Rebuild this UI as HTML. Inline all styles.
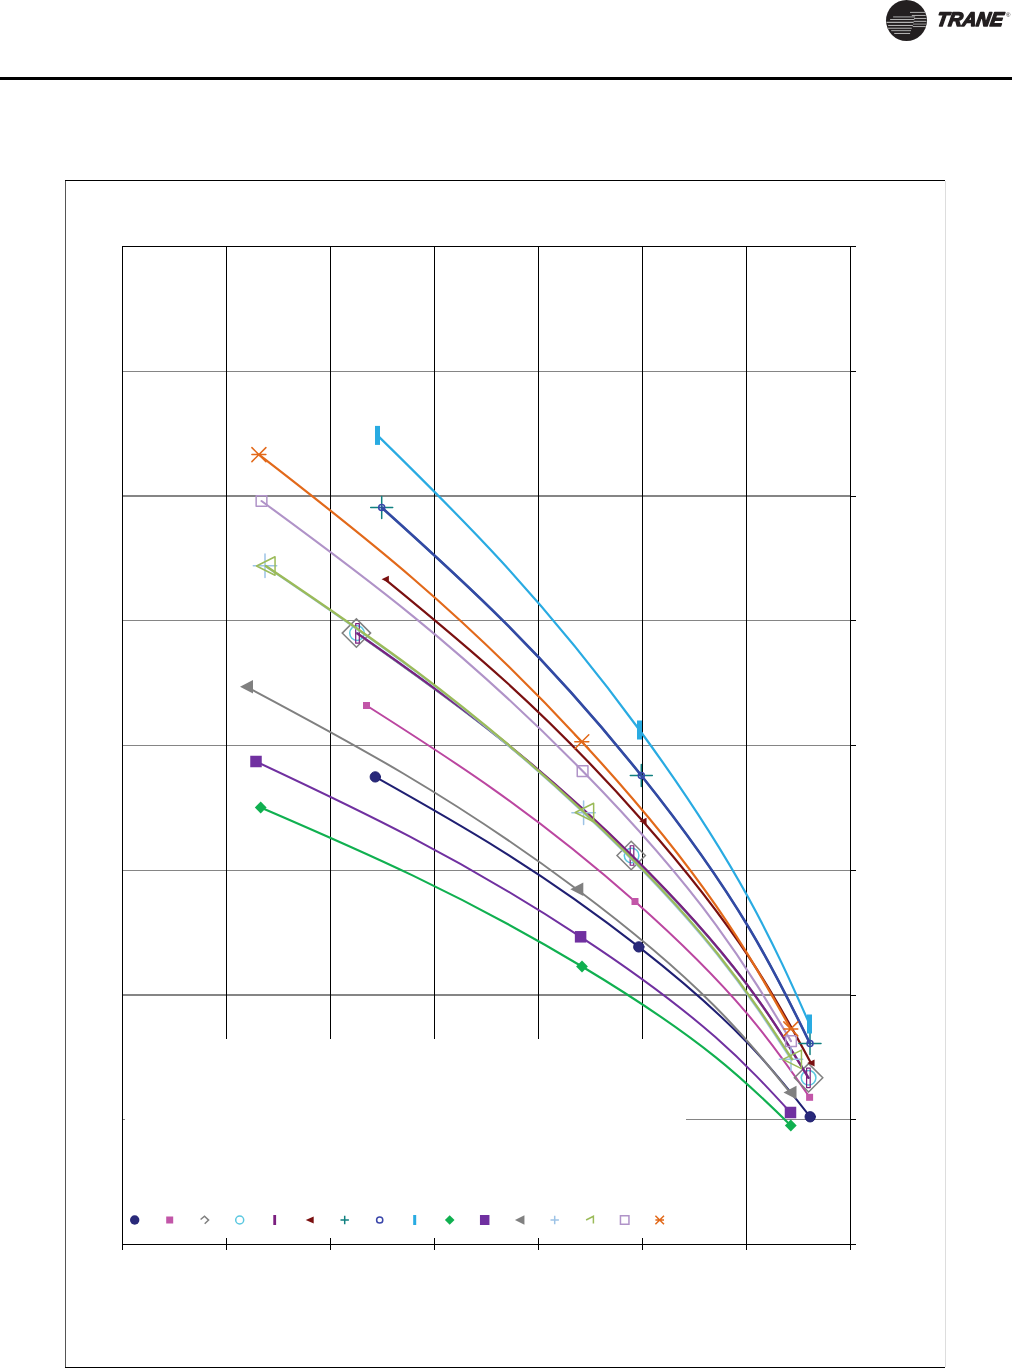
<!DOCTYPE html>
<html><head><meta charset="utf-8"><title>Chart</title>
<style>html,body{margin:0;padding:0;background:#fff;width:1012px;height:1368px;overflow:hidden;position:relative}</style>
</head><body>
<svg width="1012" height="1368" viewBox="0 0 1012 1368" style="position:absolute;left:0;top:0">
<rect x="0" y="77" width="1012" height="3" fill="#000"/>
<rect x="65" y="180" width="1" height="1188" fill="#555"/>
<rect x="946" y="181" width="0" height="0" fill="none"/>
<rect x="945" y="181" width="1" height="1186" fill="#ddd"/>
<rect x="65" y="180" width="880" height="1" fill="#000"/>
<rect x="65" y="1367" width="880" height="1" fill="#000"/>
<rect x="123" y="371" width="727" height="1" fill="#858585"/>
<rect x="123" y="495" width="727" height="2" fill="#858585"/>
<rect x="123" y="620" width="727" height="1" fill="#858585"/>
<rect x="123" y="745" width="727" height="1" fill="#858585"/>
<rect x="123" y="870" width="727" height="1" fill="#858585"/>
<rect x="123" y="994" width="727" height="2" fill="#858585"/>
<rect x="123" y="1119" width="727" height="1" fill="#858585"/>
<rect x="226" y="246" width="1" height="998" fill="#000"/>
<rect x="330" y="246" width="1" height="998" fill="#000"/>
<rect x="434" y="246" width="1" height="998" fill="#000"/>
<rect x="538" y="246" width="1" height="998" fill="#000"/>
<rect x="642" y="246" width="1" height="998" fill="#000"/>
<rect x="746" y="246" width="1" height="998" fill="#000"/>
<rect x="122" y="246" width="1" height="1004" fill="#000"/>
<rect x="850" y="246" width="1" height="1004" fill="#000"/>
<rect x="122" y="246" width="734" height="1" fill="#000"/>
<rect x="122" y="1244" width="734" height="1" fill="#000"/>
<rect x="850" y="371" width="6" height="1" fill="#000"/>
<rect x="850" y="496" width="6" height="1" fill="#000"/>
<rect x="850" y="620" width="6" height="1" fill="#000"/>
<rect x="850" y="745" width="6" height="1" fill="#000"/>
<rect x="850" y="870" width="6" height="1" fill="#000"/>
<rect x="850" y="995" width="6" height="1" fill="#000"/>
<rect x="850" y="1119" width="6" height="1" fill="#000"/>
<rect x="122" y="1238" width="1" height="12" fill="#000"/>
<rect x="226" y="1238" width="1" height="12" fill="#000"/>
<rect x="330" y="1238" width="1" height="12" fill="#000"/>
<rect x="434" y="1238" width="1" height="12" fill="#000"/>
<rect x="538" y="1238" width="1" height="12" fill="#000"/>
<rect x="642" y="1238" width="1" height="12" fill="#000"/>
<rect x="746" y="1238" width="1" height="12" fill="#000"/>
<rect x="850" y="1238" width="1" height="12" fill="#000"/>
<rect x="125" y="1039" width="561" height="199" fill="#fff"/>
<g stroke-linecap="round" stroke-linejoin="round">
<path d="M375.30,776.90 C457.04,822.81 538.77,868.72 638.80,946.90 C738.83,1025.08 774.51,1070.94 810.20,1116.80" fill="none" stroke="#1f1f72" stroke-width="2.00"/>
<circle cx="375.30" cy="776.90" r="5.2" fill="#29297a" stroke="#1c1c6c" stroke-width="0.9"/>
<circle cx="638.80" cy="946.90" r="5.2" fill="#29297a" stroke="#1c1c6c" stroke-width="0.9"/>
<circle cx="810.20" cy="1116.80" r="5.2" fill="#29297a" stroke="#1c1c6c" stroke-width="0.9"/>
<path d="M366.50,705.50 C449.79,758.44 533.09,811.39 635.00,901.50 C736.91,991.61 773.26,1044.46 809.60,1097.30" fill="none" stroke="#bb46a0" stroke-width="2.00"/>
<rect x="363.00" y="702.00" width="7.00" height="7.00" fill="#c256a8"/>
<rect x="631.50" y="898.00" width="7.00" height="7.00" fill="#c256a8"/>
<rect x="806.10" y="1093.80" width="7.00" height="7.00" fill="#c256a8"/>
<path d="M356.40,633.10 C441.80,693.16 527.19,753.22 631.20,855.50 C735.21,957.78 771.90,1017.79 808.60,1077.80" fill="none" stroke="#808080" stroke-width="2.00"/>
<polygon points="342.20,633.10 356.40,618.90 370.60,633.10 356.40,647.30" fill="none" stroke="#808080" stroke-width="1.50" stroke-linejoin="miter"/>
<polygon points="617.00,855.50 631.20,841.30 645.40,855.50 631.20,869.70" fill="none" stroke="#808080" stroke-width="1.50" stroke-linejoin="miter"/>
<polygon points="794.40,1077.80 808.60,1063.60 822.80,1077.80 808.60,1092.00" fill="none" stroke="#808080" stroke-width="1.50" stroke-linejoin="miter"/>
<path d="M357.00,633.10 C442.37,693.16 527.73,753.22 631.60,855.50 C735.47,957.78 772.03,1017.79 808.60,1077.80" fill="none" stroke="#5bc8e0" stroke-width="2.00"/>
<circle cx="357.00" cy="633.10" r="7.30" fill="none" stroke="#5bc8e0" stroke-width="1.50"/>
<circle cx="631.60" cy="855.50" r="7.30" fill="none" stroke="#5bc8e0" stroke-width="1.50"/>
<circle cx="808.60" cy="1077.80" r="7.30" fill="none" stroke="#5bc8e0" stroke-width="1.50"/>
<path d="M357.50,633.40 C442.90,693.34 528.29,753.29 632.00,855.50 C735.71,957.71 772.05,1017.76 808.40,1077.80" fill="none" stroke="#7b1f7f" stroke-width="2.30"/>
<rect x="355.70" y="623.65" width="3.60" height="19.50" fill="none" stroke="#7b1f7f" stroke-width="1.20"/>
<rect x="630.20" y="845.75" width="3.60" height="19.50" fill="none" stroke="#7b1f7f" stroke-width="1.20"/>
<rect x="806.60" y="1068.05" width="3.60" height="19.50" fill="none" stroke="#7b1f7f" stroke-width="1.20"/>
<path d="M385.20,579.30 C465.09,644.62 544.99,709.95 642.90,821.20 C740.81,932.45 775.86,997.73 810.90,1063.00" fill="none" stroke="#7a1010" stroke-width="2.20"/>
<polygon points="381.55,579.30 388.85,575.80 388.85,582.80" fill="#7a1010"/>
<polygon points="639.25,821.20 646.55,817.70 646.55,824.70" fill="#7a1010"/>
<polygon points="807.25,1063.00 814.55,1059.50 814.55,1066.50" fill="#7a1010"/>
<path d="M381.70,507.50 C462.25,579.86 542.79,652.22 641.30,775.50 C739.81,898.78 774.90,971.14 810.00,1043.50" fill="none" stroke="#108080" stroke-width="2.00"/>
<path d="M370.70,507.50H392.70M381.70,496.50V518.50" stroke="#108080" stroke-width="1.50" fill="none"/>
<path d="M630.30,775.50H652.30M641.30,764.50V786.50" stroke="#108080" stroke-width="1.50" fill="none"/>
<path d="M799.00,1043.50H821.00M810.00,1032.50V1054.50" stroke="#108080" stroke-width="1.50" fill="none"/>
<path d="M381.70,507.50 C462.25,579.86 542.79,652.22 641.30,775.50 C739.81,898.78 774.90,971.14 810.00,1043.50" fill="none" stroke="#3349a4" stroke-width="2.60"/>
<circle cx="381.70" cy="507.50" r="3.00" fill="none" stroke="#3a46aa" stroke-width="1.50"/>
<circle cx="641.30" cy="775.50" r="3.00" fill="none" stroke="#3a46aa" stroke-width="1.50"/>
<circle cx="810.00" cy="1043.50" r="3.00" fill="none" stroke="#3a46aa" stroke-width="1.50"/>
<path d="M377.50,435.40 C458.82,515.01 540.14,594.62 639.50,730.00 C738.86,865.38 774.18,944.69 809.50,1024.00" fill="none" stroke="#29abe2" stroke-width="2.20"/>
<rect x="375.00" y="425.90" width="5.00" height="19.00" fill="#29abe2"/>
<rect x="637.00" y="720.50" width="5.00" height="19.00" fill="#29abe2"/>
<rect x="807.00" y="1014.50" width="5.00" height="19.00" fill="#29abe2"/>
<path d="M260.70,807.50 C360.39,850.43 460.08,893.36 582.00,966.50 C703.92,1039.64 747.36,1082.57 790.80,1125.50" fill="none" stroke="#10b050" stroke-width="2.10"/>
<polygon points="254.80,807.50 260.70,801.60 266.60,807.50 260.70,813.40" fill="#10b050"/>
<polygon points="576.10,966.50 582.00,960.60 587.90,966.50 582.00,972.40" fill="#10b050"/>
<polygon points="784.90,1125.50 790.80,1119.60 796.70,1125.50 790.80,1131.40" fill="#10b050"/>
<path d="M256.00,761.50 C356.83,808.78 457.67,856.07 580.60,936.80 C703.54,1017.53 747.02,1065.01 790.50,1112.50" fill="none" stroke="#7030a0" stroke-width="2.00"/>
<rect x="250.25" y="755.75" width="11.50" height="11.50" fill="#7030a0"/>
<rect x="574.85" y="931.05" width="11.50" height="11.50" fill="#7030a0"/>
<rect x="784.75" y="1106.75" width="11.50" height="11.50" fill="#7030a0"/>
<path d="M246.50,686.80 C349.15,741.36 451.79,795.91 576.80,889.20 C701.80,982.49 745.90,1037.44 790.00,1092.40" fill="none" stroke="#808080" stroke-width="2.00"/>
<polygon points="240.00,686.80 253.00,680.05 253.00,693.55" fill="#808080"/>
<polygon points="570.30,889.20 583.30,882.45 583.30,895.95" fill="#808080"/>
<polygon points="783.50,1092.40 796.50,1085.65 796.50,1099.15" fill="#808080"/>
<path d="M265.00,565.80 C363.81,632.50 462.62,699.20 583.60,812.70 C704.58,926.21 747.79,992.75 791.00,1059.30" fill="none" stroke="#9dc3e6" stroke-width="2.00"/>
<path d="M253.30,565.80H276.70M265.00,554.10V577.50" stroke="#9dc3e6" stroke-width="1.50" fill="none"/>
<path d="M571.90,812.70H595.30M583.60,801.00V824.40" stroke="#9dc3e6" stroke-width="1.50" fill="none"/>
<path d="M779.30,1059.30H802.70M791.00,1047.60V1071.00" stroke="#9dc3e6" stroke-width="1.50" fill="none"/>
<path d="M265.80,566.00 C364.56,632.52 463.33,699.04 584.40,812.50 C705.47,925.96 748.84,992.63 792.20,1059.30" fill="none" stroke="#9bbb59" stroke-width="2.30"/>
<polygon points="256.55,566.00 275.05,556.75 275.05,575.25" fill="none" stroke="#9bbb59" stroke-width="1.50"/>
<polygon points="575.15,812.50 593.65,803.25 593.65,821.75" fill="none" stroke="#9bbb59" stroke-width="1.50"/>
<polygon points="782.95,1059.30 801.45,1050.05 801.45,1068.55" fill="none" stroke="#9bbb59" stroke-width="1.50"/>
<path d="M261.50,501.00 C361.16,573.94 460.81,646.88 582.60,771.10 C704.38,895.32 747.69,968.21 791.00,1041.10" fill="none" stroke="#b093c8" stroke-width="2.10"/>
<rect x="256.15" y="495.65" width="10.70" height="10.70" fill="none" stroke="#b093c8" stroke-width="1.50"/>
<rect x="577.25" y="765.75" width="10.70" height="10.70" fill="none" stroke="#b093c8" stroke-width="1.50"/>
<rect x="785.65" y="1035.75" width="10.70" height="10.70" fill="none" stroke="#b093c8" stroke-width="1.50"/>
<path d="M258.90,454.60 C359.18,532.11 459.46,609.61 581.80,741.70 C704.14,873.79 747.47,951.34 790.80,1028.90" fill="none" stroke="#e2691a" stroke-width="2.20"/>
<path d="M251.90,447.60L265.90,461.60M251.90,461.60L265.90,447.60M251.90,454.60H265.90" stroke="#e2691a" stroke-width="1.50" fill="none"/>
<path d="M574.80,734.70L588.80,748.70M574.80,748.70L588.80,734.70M574.80,741.70H588.80" stroke="#e2691a" stroke-width="1.50" fill="none"/>
<path d="M783.80,1021.90L797.80,1035.90M783.80,1035.90L797.80,1021.90M783.80,1028.90H797.80" stroke="#e2691a" stroke-width="1.50" fill="none"/>
</g>
<g>
<circle cx="134.70" cy="1220.00" r="4.70" fill="#29297a"/>
<rect x="166.20" y="1216.50" width="7.00" height="7.00" fill="#c256a8"/>
<path d="M200.60,1219.50L204.50,1216.20L208.60,1220.10L204.70,1223.80" fill="none" stroke="#808080" stroke-width="1.5" stroke-linejoin="miter"/>
<circle cx="239.70" cy="1220.00" r="4.00" fill="none" stroke="#5bc8e0" stroke-width="1.50"/>
<rect x="273.30" y="1215.00" width="2.80" height="10.00" fill="#7b1f7f"/>
<polygon points="305.70,1220.00 313.70,1216.50 313.70,1223.50" fill="#7a1010"/>
<path d="M340.50,1220.00H348.90M344.70,1215.80V1224.20" stroke="#108080" stroke-width="1.50" fill="none"/>
<circle cx="379.70" cy="1220.00" r="3.10" fill="none" stroke="#3a46aa" stroke-width="1.50"/>
<rect x="413.20" y="1215.00" width="3.00" height="10.00" fill="#29abe2"/>
<polygon points="444.90,1220.00 449.70,1215.20 454.50,1220.00 449.70,1224.80" fill="#10b050"/>
<rect x="479.95" y="1215.00" width="9.50" height="10.00" fill="#7030a0"/>
<polygon points="514.95,1220.00 524.45,1215.25 524.45,1224.75" fill="#808080"/>
<path d="M550.50,1220.00H558.90M554.70,1215.80V1224.20" stroke="#9dc3e6" stroke-width="1.50" fill="none"/>
<path d="M586.10,1220.00L593.40,1216.30V1223.60" fill="none" stroke="#9bbb59" stroke-width="1.5"/>
<rect x="620.45" y="1215.75" width="8.50" height="8.50" fill="none" stroke="#b093c8" stroke-width="1.50"/>
<path d="M655.40,1215.70L664.00,1224.30M655.40,1224.30L664.00,1215.70M655.40,1220.00H664.00" stroke="#e2691a" stroke-width="1.50" fill="none"/>
</g>
<g>
<circle cx="906.5" cy="20.5" r="20.5" fill="#231f20"/>
<rect x="910.0" y="11.90" width="15.0" height="0.9" fill="#bdbdbd"/>
<rect x="911.8" y="14.95" width="13.9" height="0.9" fill="#c4c4c4"/>
<rect x="914.0" y="17.95" width="12.4" height="0.9" fill="#c4c4c4"/>
<rect x="913.6" y="20.85" width="12.8" height="0.9" fill="#c8c8c8"/>
<rect x="913.0" y="23.55" width="13.2" height="1.1" fill="#8e8e8e"/>
<rect x="912.7" y="26.15" width="13.0" height="0.9" fill="#bdbdbd"/>
<rect x="893.1" y="16.25" width="22.0" height="1.3" fill="#8c8c8c"/>
<rect x="890.1" y="19.05" width="24.3" height="0.9" fill="#c4c4c4"/>
<rect x="886.6" y="21.80" width="27.0" height="1.0" fill="#d6d6d6"/>
<rect x="888.1" y="24.95" width="24.8" height="0.9" fill="#cfcfcf"/>
<rect x="887.9" y="27.75" width="23.9" height="0.9" fill="#c4c4c4"/>
<rect x="891.2" y="30.05" width="19.8" height="1.1" fill="#9a9a9a"/>
<rect x="894.2" y="32.95" width="15.9" height="0.9" fill="#c8c8c8"/>
</g>
<g transform="translate(0,26.3) skewX(-9) translate(0,-26.3)"><text x="935.9" y="26.3" style="font-family:'Liberation Sans',Arial,sans-serif;font-weight:700;font-style:italic;font-size:19.6px" textLength="66.5" lengthAdjust="spacingAndGlyphs" fill="#231f20" stroke="#231f20" stroke-width="1.4" stroke-linejoin="round">TRANE</text></g>
<text x="1006" y="16.8" style="font-family:'Liberation Sans',Arial,sans-serif;font-size:6px" fill="#231f20">®</text>
</svg>
</body></html>
